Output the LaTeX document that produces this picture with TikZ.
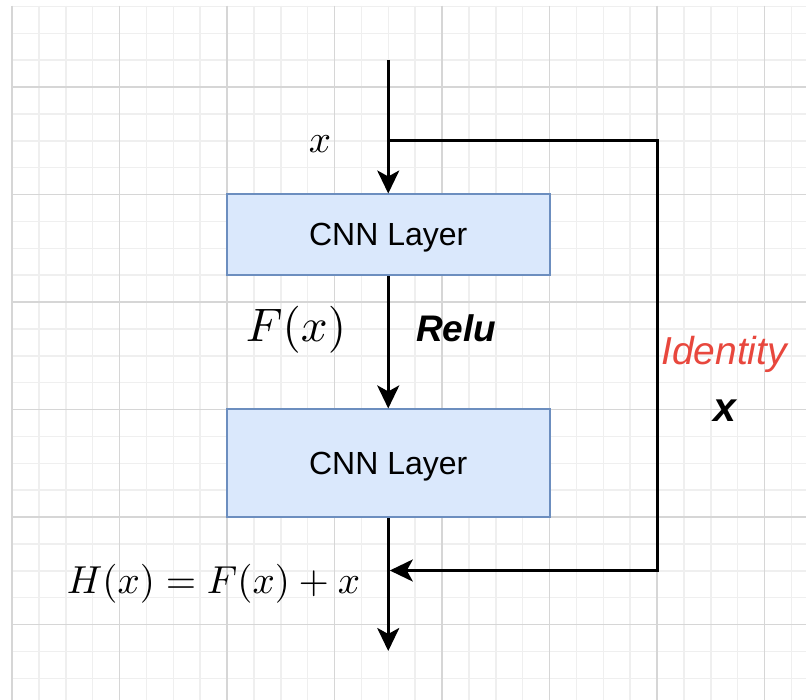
\documentclass[tikz,border=0pt]{standalone}
\usepackage{fontspec}
\setmainfont{Liberation Sans}
\usetikzlibrary{arrows.meta}

\definecolor{boxfill}{HTML}{DAE8FC}
\definecolor{boxline}{HTML}{6C8EBF}
\definecolor{gridminor}{HTML}{EFEFEF}
\definecolor{gridmajor}{HTML}{D6D6D6}
\definecolor{idred}{HTML}{E8473D}

\tikzset{
  layerbox/.style={draw=boxline, fill=boxfill, line width=2pt,
    minimum width=322.5pt, inner sep=0pt, text depth=0pt,
    font=\fontsize{32}{38}\selectfont},
  flow/.style={line width=3pt, -{Stealth[length=23pt, width=22pt, inset=6pt]}},
  lbl/.style={inner sep=0pt, anchor=base west},
  mathbig/.style={scale=4.7, transform shape},
  mathmid/.style={scale=3.9, transform shape},
}

\begin{document}
\begin{tikzpicture}[x=1pt, y=-1pt, line join=miter]
  \useasboundingbox (0,0) rectangle (806,700);
  \fill[white] (0,0) rectangle (806,700);

  % background grid: light minor lines, darker major lines
  \foreach \i in {0,...,29}
    \draw[gridminor, line width=1.5pt] ({12+\i*26.875},6) -- ({12+\i*26.875},700);
  \foreach \j in {0,...,26}
    \draw[gridminor, line width=1.5pt] (12,{6.4+\j*26.875}) -- (806,{6.4+\j*26.875});
  \foreach \i in {0,...,7}
    \draw[gridmajor, line width=1.5pt] ({12+\i*107.5},6) -- ({12+\i*107.5},700);
  \foreach \j in {1,...,6}
    \draw[gridmajor, line width=1.5pt] (12,{-20.5+\j*107.5}) -- (806,{-20.5+\j*107.5});

  % layers
  \node[layerbox, minimum height=80.5pt] (layer1) at (388.25,234.75) {CNN Layer};
  \node[layerbox, minimum height=107.5pt] (layer2) at (388.25,463.2) {CNN Layer};

  % connector points
  \coordinate (input) at (388.25,60);
  \coordinate (split) at (388.25,141);
  \coordinate (skipTop) at (657,141);
  \coordinate (skipBot) at (657,570.5);
  \coordinate (merge) at (389.8,570.5);
  \coordinate (output) at (388.25,651);

  % main path
  \draw[flow] (input) -- (layer1.north);
  \draw[flow] (layer1.south) -- (layer2.north);
  \draw[flow] (layer2.south) -- (output);

  % identity shortcut
  \draw[flow] (split) -- (skipTop) -- (skipBot) -- (merge);

  % labels
  \node[lbl, mathmid] (xin) at (308,153) {$x$};
  \node[lbl, mathbig] (fx) at (245,342) {$F(x)$};
  \node[lbl, font=\fontsize{37}{44}\selectfont\bfseries\itshape] (relu) at (416,342) {Relu};
  \node[lbl, text=idred, font=\fontsize{39}{46}\selectfont\itshape] (ident) at (661,365) {Identity};
  \node[inner sep=0pt, anchor=base, font=\fontsize{41}{48}\selectfont\bfseries\itshape] (xid) at (725,422) {x};
  \node[lbl, mathmid] (hx) at (66,593) {$H(x) = F(x) + x$};
\end{tikzpicture}
\end{document}
